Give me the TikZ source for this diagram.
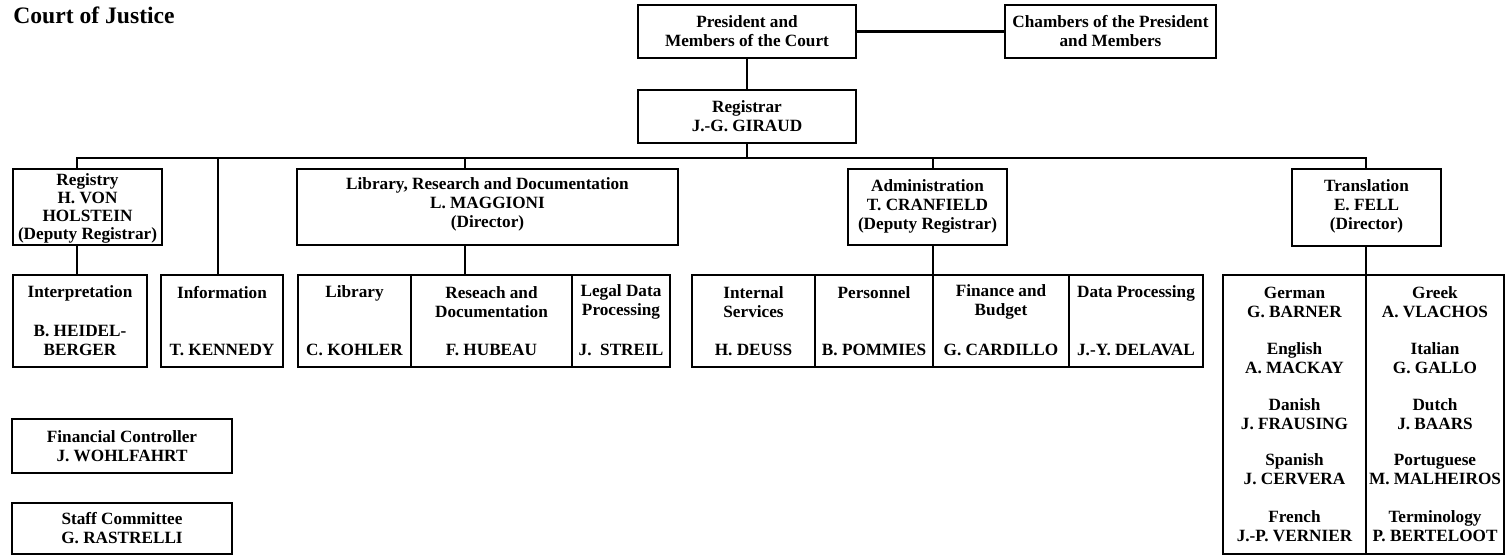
\documentclass[tikz,border=0pt]{standalone}
\usepackage{fontspec}
\setmainfont{Liberation Serif}
\newcommand\lbf{\fontsize{8.6}{9.5}\selectfont\bfseries}
\newcommand\tightbf{\fontsize{8.6}{8.9}\selectfont\bfseries}
\newcommand\mybox[5]{%
  \node[box, minimum width={(#4-#2)*0.5pt}, minimum height={(#5-#3)*0.5pt}] (#1) at ({(#2+#4)/2},{(#3+#5)/2}) {};}
\tikzset{
  box/.style={draw, line width=1.2pt, inner sep=0pt, outer sep=0pt},
  lbl/.style={font=\lbf, align=center, inner sep=0pt},
  conn/.style={line width=1.2pt}
}
\begin{document}
\begin{tikzpicture}[x=0.5pt,y=-0.5pt]
\useasboundingbox (0,0) rectangle (1506,556);
\node[anchor=west, inner sep=0pt, font=\fontsize{11.8}{13}\selectfont\bfseries] (title) at (13,15) {Court of Justice};
% top level
\mybox{pres}{638}{5}{856}{58}
\node[lbl] (tpres) at (747,31.5) {President and\\Members of the Court};
\mybox{chamb}{1005}{5}{1216}{58}
\node[lbl] (tchamb) at (1110.5,31.5) {Chambers of the President\\and Members};
\mybox{reg}{638}{90}{856}{143}
\node[lbl] (treg) at (747,116.5) {Registrar\\J.-G. GIRAUD};
% second level
\mybox{registry}{13}{169}{162}{245}
\node[lbl, font=\tightbf] (tregistry) at (87.5,208.5) {Registry\\H. VON\\HOLSTEIN\\(Deputy Registrar)};
\mybox{lib}{297}{169}{678}{245}
\node[lbl] (tlib) at (487.5,204) {Library, Research and Documentation\\L. MAGGIONI\\(Director)};
\mybox{adm}{848}{169}{1007}{245}
\node[lbl] (tadm) at (927.5,206) {Administration\\T. CRANFIELD\\(Deputy Registrar)};
\mybox{trans}{1292}{169}{1441}{246}
\node[lbl] (ttrans) at (1366.5,206) {Translation\\E. FELL\\(Director)};
% third level
\mybox{interp}{13}{275}{147}{367}
\node[lbl] (tinterp1) at (80,293) {Interpretation};
\node[lbl] (tinterp2) at (80,340.5) {B. HEIDEL-\\BERGER};
\mybox{info}{161}{275}{283}{367}
\node[lbl] (tinfo1) at (222,293) {Information};
\node[lbl] (tinfo2) at (222,350) {T. KENNEDY};
\mybox{libr}{298}{275}{411}{367}
\node[lbl] (tlibr1) at (354.5,293) {Library};
\node[lbl] (tlibr2) at (354.5,350) {C. KOHLER};
\mybox{res}{411}{275}{572}{367}
\node[lbl] (tres1) at (491.5,302) {Reseach and\\Documentation};
\node[lbl] (tres2) at (491.5,350) {F. HUBEAU};
\mybox{legal}{572}{275}{670}{367}
\node[lbl] (tlegal1) at (621,302) {Legal Data\\Processing};
\node[lbl] (tlegal2) at (621,350) {J.\ \ STREIL};
\mybox{intserv}{692}{275}{815}{367}
\node[lbl] (tint1) at (753.5,302) {Internal\\Services};
\node[lbl] (tint2) at (753.5,350) {H. DEUSS};
\mybox{pers}{815}{275}{933}{367}
\node[lbl] (tpers1) at (874,293) {Personnel};
\node[lbl] (tpers2) at (874,350) {B. POMMIES};
\mybox{fin}{933}{275}{1069}{367}
\node[lbl] (tfin1) at (1001,302) {Finance and\\Budget};
\node[lbl] (tfin2) at (1001,350) {G. CARDILLO};
\mybox{datap}{1069}{275}{1203}{367}
\node[lbl] (tdatap1) at (1136,293) {Data Processing};
\node[lbl] (tdatap2) at (1136,350) {J.-Y. DELAVAL};
% translation divisions
\mybox{tl}{1223}{275}{1366}{554}
\mybox{tr}{1366}{275}{1504}{554}
\node[lbl] (de) at (1294.5,302.5) {German\\G. BARNER};
\node[lbl] (en) at (1294.5,358.5) {English\\A. MACKAY};
\node[lbl] (da) at (1294.5,414) {Danish\\J. FRAUSING};
\node[lbl] (es) at (1294.5,469.5) {Spanish\\J. CERVERA};
\node[lbl] (fr) at (1294.5,526) {French\\J.-P. VERNIER};
\node[lbl] (el) at (1435,302.5) {Greek\\A. VLACHOS};
\node[lbl] (it) at (1435,358.5) {Italian\\G. GALLO};
\node[lbl] (nl) at (1435,414) {Dutch\\J. BAARS};
\node[lbl] (pt) at (1435,469.5) {Portuguese\\M. MALHEIROS};
\node[lbl] (term) at (1435,526) {Terminology\\P. BERTELOOT};
% standalone boxes
\mybox{finctrl}{12}{419}{232}{473}
\node[lbl] (tfinctrl) at (122,446) {Financial Controller\\J. WOHLFAHRT};
\mybox{staff}{12}{503}{232}{554}
\node[lbl] (tstaff) at (122,528.5) {Staff Committee\\G. RASTRELLI};
% connectors
\coordinate (busL) at (77,158);
\coordinate (busR) at (1366,158);
\coordinate (infoT) at (218,158);
\coordinate (libT) at (465,158);
\coordinate (admT) at (933,158);
\draw[conn] (pres.east) -- (chamb.west);
\draw[conn] (pres.south) -- (reg.north);
\draw[conn] (reg.south) -- (reg.south |- busL);
\draw[conn] (registry.north -| busL) -- (busL) -- (busR) -- (trans.north -| busR);
\draw[conn] (infoT) -- (infoT |- info.north);
\draw[conn] (libT) -- (libT |- lib.north);
\draw[conn] (admT) -- (admT |- adm.north);
\draw[conn] (registry.south -| busL) -- (interp.north -| busL);
\draw[conn] (lib.south -| libT) -- (res.north -| libT);
\draw[conn] (adm.south -| admT) -- (fin.north west);
\draw[conn] (trans.south -| busR) -- (tl.north east);
\end{tikzpicture}
\end{document}
